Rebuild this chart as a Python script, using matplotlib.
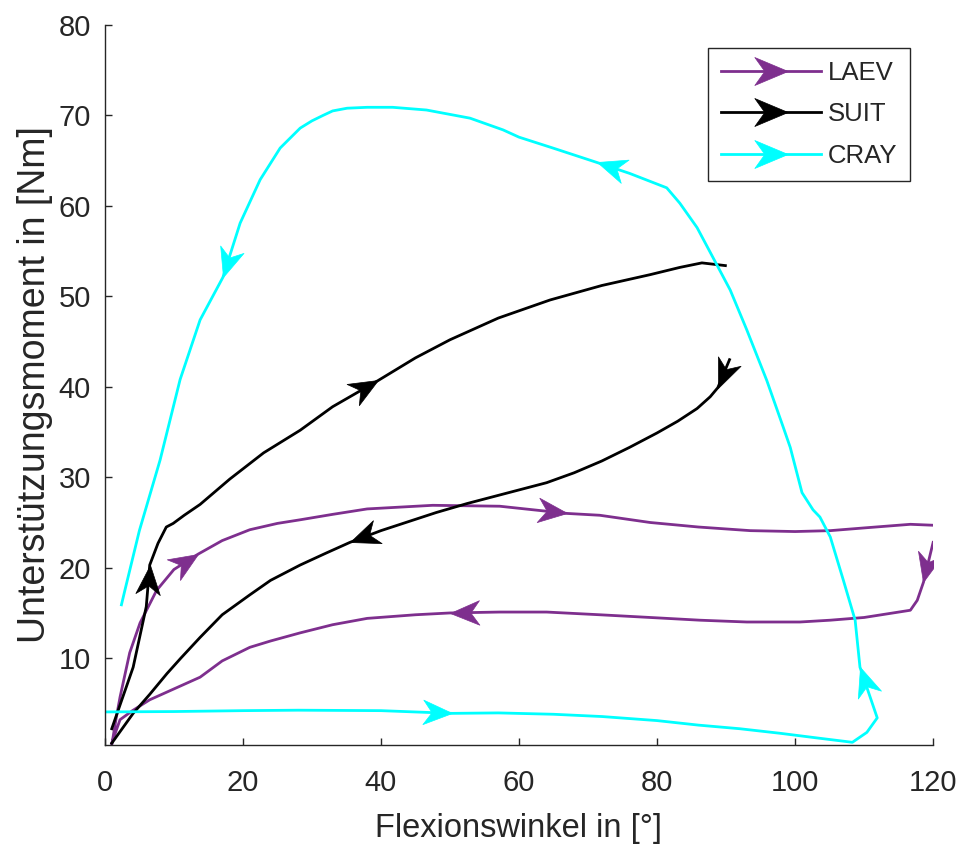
import numpy as np
import matplotlib
matplotlib.use("Agg")
import matplotlib.pyplot as plt
from matplotlib.path import Path
from matplotlib.markers import MarkerStyle
from matplotlib.transforms import Affine2D
from matplotlib.lines import Line2D

plt.rcParams['font.family'] = ['Liberation Sans', 'DejaVu Sans']

# LAEV loop (nan = gap between pieces)
laev_x = [1.0, 1.6, 2.2, 3.6, 5.1, 7.5, 10.0, 13.5, 17, 21, 25, 28.3, 33, 38, 47.5, 57.2, 67, 71.7, 79,
          86, 93.5, 100, 105.1, 110, 116.7, 119.9, np.nan,
          120.0, 118.6, 117.7, 116.7, 110, 105.1, 100.7, 93, 86.2, 79, 71.7, 64, 57.2, 50, 45, 38,
          33, 28.3, 24, 21, 17, 13.8, 10, 6.5, 4, 2.2, 1.0]
laev_y = [0.4, 3.2, 5.7, 10.6, 13.9, 17.5, 19.8, 21.5, 23.0, 24.2, 24.9, 25.3, 25.9, 26.5, 26.9, 26.8,
          26.0, 25.8, 25.0, 24.5, 24.1, 24.0, 24.1, 24.4, 24.8, 24.7, np.nan,
          22.8, 18.4, 16.4, 15.3, 14.5, 14.2, 14.0, 14.0, 14.2, 14.5, 14.8, 15.1, 15.1, 15.0, 14.8, 14.4,
          13.7, 12.8, 11.9, 11.2, 9.7, 7.9, 6.6, 5.4, 4.2, 3.2, 0.6]
laev_arrows = [7, 16, 28, 40]

# SUIT loop
suit_x = [1.0, 4.1, 6.0, 6.5, 7.7, 8.9, 9.9, 11.5, 13.8, 18.1, 23, 28.3, 33, 39.6, 45, 50, 57, 64.5, 72,
          79, 83.3, 86.5, 89.9, np.nan,
          90.5, 88.8, 87.7, 85.8, 83, 80, 76, 72, 68, 64, 60, 56, 52.5, 48, 44, 40, 35.5, 32, 28.3, 24,
          21, 17, 13.8, 11, 9, 6.5, 4.1, 1.0]
suit_y = [2.2, 9.0, 15.7, 20.3, 22.7, 24.5, 24.9, 25.8, 27.0, 29.8, 32.7, 35.2, 37.8, 40.7, 43.2, 45.2,
          47.6, 49.6, 51.2, 52.4, 53.2, 53.7, 53.4, np.nan,
          43.0, 39.9, 38.9, 37.6, 36.2, 34.9, 33.3, 31.8, 30.5, 29.4, 28.6, 27.8, 27.1, 26.1, 25.1, 24.1,
          22.8, 21.6, 20.3, 18.6, 17.0, 14.8, 12.3, 10.0, 8.3, 6.0, 3.9, 0.6]
suit_arrows = [3, 13, 25, 40]

# CRAY loop
cray_x = [0, 10, 20, 28, 40, 50.3, 57, 65, 72, 80, 86, 92, 97.8, 103, 108.3, 110.4, 111.9, 109.4, 108.7,
          107, 105.1, 103.6, 102.6, 101, 99.3, 98.3, 95.9, 93, 90.6, 88.1, 85.8, 83.3, 81.4, 76, 71.3,
          64.9, 60, 57.7, 52.9, 46.6, 41.7, 38, 35.1, 33, 31.6, 30, 28.3, 25.4, 22.5, 19.6, 17.1, 13.8,
          10.9, 8, 5, 2.9, 2.4]
cray_y = [4.06, 4.1, 4.2, 4.25, 4.2, 3.9, 3.95, 3.8, 3.55, 3.1, 2.6, 2.2, 1.7, 1.2, 0.7, 1.8, 3.4, 9.0,
          14.2, 18.6, 23.4, 25.6, 26.4, 28.3, 33.3, 35.5, 40.7, 46.3, 50.7, 54.3, 57.6, 60.3, 62.0, 63.6,
          64.8, 66.4, 67.6, 68.4, 69.7, 70.6, 70.9, 70.9, 70.8, 70.5, 70.0, 69.4, 68.6, 66.4, 62.9, 58.1,
          52.1, 47.4, 40.8, 31.9, 24.1, 17.5, 15.9]
cray_arrows = [5, 17, 34, 50]

series = [("LAEV", "#7E2F8E", laev_x, laev_y, laev_arrows),
          ("SUIT", "black", suit_x, suit_y, suit_arrows),
          ("CRAY", "#00FFFF", cray_x, cray_y, cray_arrows)]

txt = "#262626"

# arrow head, tip at origin, pointing right
head = Path([(0, 0), (-1, 0.42), (-0.7, 0), (-1, -0.42), (0, 0)],
            [Path.MOVETO, Path.LINETO, Path.LINETO, Path.LINETO, Path.CLOSEPOLY])
head_leg = Path([(0.5, 0), (-0.5, 0.42), (-0.2, 0), (-0.5, -0.42), (0.5, 0)],
                [Path.MOVETO, Path.LINETO, Path.LINETO, Path.LINETO, Path.CLOSEPOLY])

fig = plt.figure(figsize=(9.62, 8.47), dpi=100)
ax = fig.add_axes([0.109, 0.1204, 0.861, 0.8501])
ax.set_xlim(0, 120)
ax.set_ylim(0.4, 80)

handles = []
for name, col, xs, ys, arr in series:
    ax.plot(xs, ys, color=col, lw=2.0, zorder=2, solid_joinstyle='round')
    for i in arr:
        p0 = ax.transData.transform((xs[i - 1], ys[i - 1]))
        p1 = ax.transData.transform((xs[i], ys[i]))
        ang = np.degrees(np.arctan2(p1[1] - p0[1], p1[0] - p0[0]))
        m = MarkerStyle(head, transform=Affine2D().rotate_deg(ang))
        ax.plot([xs[i]], [ys[i]], marker=m, ms=42, color=col, mec=col, mew=0.5,
                ls='none', zorder=3)
    handles.append(Line2D([], [], color=col, lw=2.0, marker=head_leg, ms=24,
                          mec=col, mew=0.5, label=name))

ax.set_xticks(np.arange(0, 121, 20))
ax.set_yticks(np.arange(10, 81, 10))
ax.spines['top'].set_visible(False)
ax.spines['right'].set_visible(False)
for s in ['left', 'bottom']:
    ax.spines[s].set_color(txt)
    ax.spines[s].set_linewidth(1.0)
ax.tick_params(direction='in', length=5, width=1.0, color=txt, labelcolor=txt, labelsize=21)
ax.tick_params(axis='x', pad=17)
ax.tick_params(axis='y', pad=10)

ax.set_xlabel("Flexionswinkel in [°]", fontsize=23.5, color=txt, labelpad=12)
ax.set_ylabel("Unterstützungsmoment in [Nm]", fontsize=27, color=txt, labelpad=4)

leg = ax.legend(handles=handles, loc='upper right', bbox_to_anchor=(0.972, 0.968),
                borderaxespad=0, fontsize=18.5, handlelength=3.9, handletextpad=0.25,
                labelspacing=0.68, fancybox=False, framealpha=1, edgecolor=txt,
                borderpad=0.5)
leg.get_frame().set_linewidth(1.0)
for t in leg.get_texts():
    t.set_color(txt)

fig.savefig("out.png", dpi=100)
